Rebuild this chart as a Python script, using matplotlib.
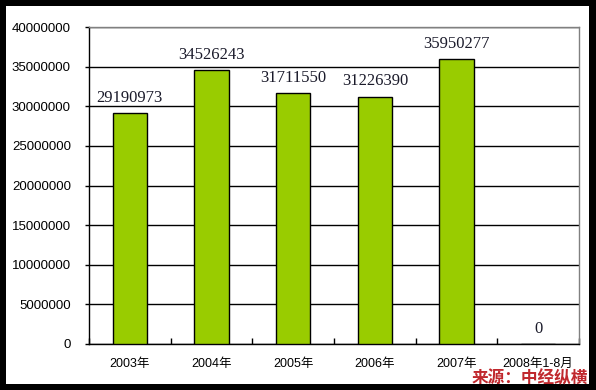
import matplotlib.pyplot as plt
from matplotlib.patches import Rectangle
import numpy as np

# Data
years = ['2003年', '2004年', '2005年', '2006年', '2007年', '2008年1-8月']
values = [29190973, 34526243, 31711550, 31226390, 35950277, 0]

fig = plt.figure(figsize=(5.96, 3.90), dpi=100, facecolor='black')

# white panel inside the black frame
fig.patches.append(Rectangle((6 / 596, 6 / 390), 583 / 596, 378 / 390,
                             transform=fig.transFigure, facecolor='white',
                             edgecolor='none', zorder=-10))

ax = fig.add_axes([89 / 596, 46 / 390, 490 / 596, 317 / 390])
ax.set_facecolor('white')

x = np.arange(len(years))
ax.bar(x, values, width=0.42, color='#99CC00', edgecolor='black', linewidth=1, zorder=3)

# value labels
for xi, v in zip(x, values):
    ax.text(xi, v + 900000, str(v), ha='center', va='bottom',
            fontsize=12, family='Liberation Serif', color='#1a1a2a', zorder=4)

ax.set_xlim(-0.5, len(years) - 0.5)
ax.set_ylim(0, 40000000)
ax.set_yticks(np.arange(0, 40000001, 5000000))
ax.set_yticklabels([str(t) for t in range(0, 40000001, 5000000)],
                   fontsize=9.5, family='Liberation Sans')
ax.yaxis.grid(True, color='black', linewidth=1, zorder=0)
ax.set_axisbelow(True)

# category labels at centres, ticks at boundaries
ax.set_xticks(x)
ax.set_xticklabels(years, fontsize=9, family=['Liberation Sans', 'Noto Sans CJK SC'])
ax.tick_params(axis='x', which='major', length=0, pad=10)
ax.set_xticks(np.arange(-0.5, len(years)), minor=True)
ax.tick_params(axis='x', which='minor', direction='in', length=4, width=1, color='black')
ax.tick_params(axis='y', length=3, width=1, pad=10)

for side in ['left', 'bottom']:
    ax.spines[side].set_color('black')
    ax.spines[side].set_linewidth(1)
for side in ['top', 'right']:
    ax.spines[side].set_color('#808080')
    ax.spines[side].set_linewidth(1)

# source note
fig.text(588 / 596, 3 / 390, '来源：中经纵横', ha='right', va='bottom',
         fontsize=12, fontweight='bold', style='italic', color='#C0282D',
         family=['Noto Sans CJK SC', 'DejaVu Sans'])

fig.savefig('out.png', dpi=100, facecolor=fig.get_facecolor())
